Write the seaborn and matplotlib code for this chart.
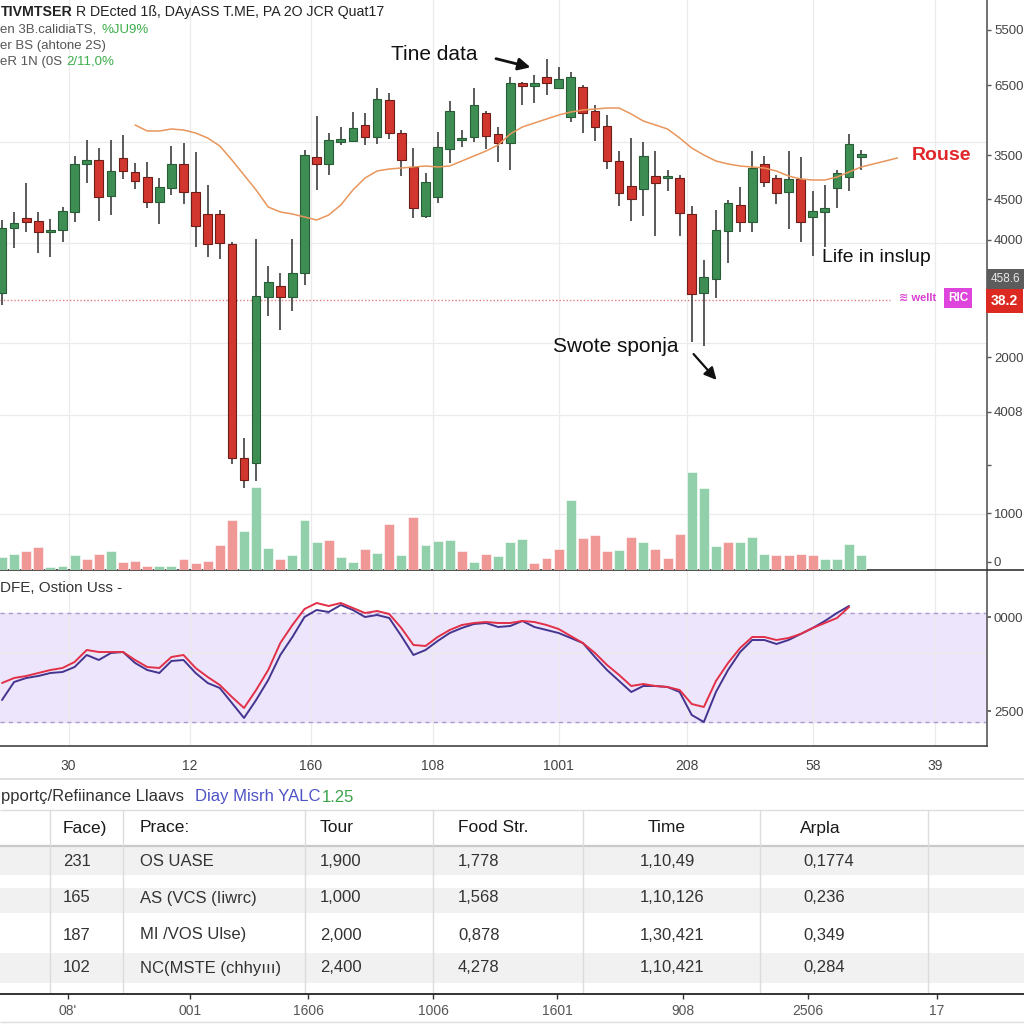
import numpy as np
import matplotlib
matplotlib.use("Agg")
import matplotlib.pyplot as plt
from matplotlib.lines import Line2D
from matplotlib.patches import Rectangle
from matplotlib.transforms import blended_transform_factory
import seaborn as sns

# ---------------- data ----------------
candle_open = [307, 372, 382, 379, 368, 370, 388, 436, 440, 404, 442, 428, 423, 398, 412, 436, 408, 386,
               386, 356, 142, 137, 303, 314, 303, 327, 443, 436, 458, 459, 475, 463, 500, 467, 433, 384,
               403, 451, 460, 463, 487, 466, 457, 517, 514, 523, 512, 483, 513, 489, 474, 439, 414, 411,
               424, 422, 422, 386, 307, 321, 369, 395, 378, 436, 422, 408, 421, 383, 388, 412, 423, 443]
candle_close = [372, 377, 378, 368, 370, 389, 436, 440, 403, 429, 429, 419, 398, 413, 436, 408, 374, 356,
                357, 142, 120, 304, 318, 303, 327, 445, 436, 460, 461, 472, 463, 501, 467, 440, 392, 418,
                453, 489, 462, 495, 464, 457, 517, 514, 517, 517, 521, 523, 487, 473, 439, 407, 401, 444,
                417, 424, 387, 306, 323, 370, 397, 378, 432, 418, 407, 421, 378, 389, 392, 427, 456, 446]
candle_high = [380, 388, 417, 388, 381, 393, 444, 460, 452, 460, 465, 437, 438, 422, 454, 457, 448, 415,
               390, 358, 162, 361, 334, 327, 361, 450, 484, 467, 473, 488, 487, 512, 507, 470, 452, 427,
               468, 499, 470, 512, 489, 473, 523, 518, 525, 541, 533, 528, 515, 495, 485, 449, 462, 458,
               449, 430, 425, 394, 340, 390, 400, 413, 449, 444, 425, 449, 443, 409, 415, 430, 466, 450]
candle_low = [295, 352, 368, 347, 343, 358, 378, 417, 379, 385, 421, 411, 392, 376, 405, 396, 353, 343,
              341, 136, 112, 119, 284, 270, 289, 315, 410, 425, 455, 458, 455, 456, 461, 424, 382, 382,
              397, 437, 453, 458, 451, 438, 430, 495, 497, 505, 512, 478, 467, 459, 431, 394, 379, 384,
              364, 409, 364, 258, 254, 302, 337, 368, 368, 413, 396, 371, 358, 344, 353, 392, 409, 430]
volume = [130, 160, 190, 230, 30, 40, 150, 110, 160, 190, 80, 90, 40, 40, 40, 110, 70, 90,
          250, 500, 390, 830, 220, 110, 150, 500, 280, 300, 130, 80, 210, 170, 460, 150, 530, 250,
          290, 300, 190, 80, 160, 140, 280, 310, 70, 120, 210, 700, 320, 350, 190, 200, 330, 280,
          210, 120, 360, 980, 820, 240, 280, 280, 330, 160, 150, 150, 160, 150, 110, 110, 260, 150]
volume_dir = list("ggrrggg" "rrgrrrggrrrrr" "gggrgggrggrgrgrgggrgrggg" "rrrgrrrgrgrrrgggrgggrrrrgggg" "r")
ma_start = 11
ma_values = [475, 469, 469, 471, 470, 467, 462, 454, 440, 425, 410, 393, 388, 386, 383, 380, 385, 395,
             410, 422, 429, 431, 432, 433, 434, 433, 434, 439, 444, 449, 455, 466, 473, 477, 481, 485,
             488, 490, 491, 492, 492, 486, 479, 475, 471, 462, 452, 445, 439, 436, 434, 433, 432, 429,
             424, 421, 420, 420, 423, 428, 433, 436, 439, 442]
osc_fast = [67, 72, 74, 77, 80, 82, 88, 100, 98, 98, 98, 90, 83, 82, 93, 95, 82, 73, 65, 53, 42, 60, 80,
            107, 125, 141, 147, 144, 147, 142, 137, 139, 136, 122, 105, 104, 113, 120, 125, 127, 128, 127,
            127, 129, 128, 125, 121, 114, 107, 97, 85, 75, 64, 66, 64, 63, 60, 46, 43, 69, 87, 102, 113,
            113, 110, 112, 116, 122, 127, 132, 143]
osc_slow = [50, 68, 72, 74, 77, 78, 83, 95, 90, 97, 98, 87, 80, 77, 89, 90, 77, 67, 62, 47, 32, 50, 70,
            95, 113, 133, 140, 138, 145, 140, 133, 135, 132, 114, 95, 100, 109, 117, 122, 126, 127, 123,
            124, 129, 123, 120, 117, 112, 107, 93, 80, 69, 58, 64, 64, 63, 58, 35, 28, 58, 80, 98, 110,
            110, 106, 110, 116, 122, 129, 137, 144]
osc_band = (28, 137)

price_ticks = [570, 515, 445, 401, 360, 243, 188, 135, 87, 38]
price_tick_labels = ["5500", "6500", "3500", "4500", "4000", "2000", "4008", "", "1000", "0"]
price_grid = [515, 458, 357, 257, 185, 86]
x_grid = [5.5, 15.5, 25.5, 35.6, 46.0, 56.6, 67.0, 77.1]
x_tick_labels = ["30", "12", "160", "108", "1001", "208", "58", "39"]
osc_ticks = [133, 39]
osc_tick_labels = ["0000", "2500"]
ref_level = 300
axis_marks = [321, 299]
axis_mark_labels = ["458.6", "38.2"]

table_headers = ["Face)", "Prace:", "Tour", "Food Str.", "Time", "Arpla"]
col_face = ["231", "165", "187", "102"]
col_prace = ["OS UASE", "AS (VCS (Iiwrc)", "MI /VOS Ulse)", "NC(MSTE (chhyııı)"]
col_tour = ["1,900", "1,000", "2,000", "2,400"]
col_food = ["1,778", "1,568", "0,878", "4,278"]
col_time = ["1,10,49", "1,10,126", "1,30,421", "1,10,421"]
col_arpla = ["0,1774", "0,236", "0,349", "0,284"]
bottom_labels = ["08'", "001", "1606", "1006", "1601", "908", "2506", "17"]

# ---------------- style ----------------
sns.set_theme(style="white")
plt.rcParams['font.family'] = ['Liberation Sans', 'DejaVu Sans']
NARROW = ['Liberation Sans Narrow', 'Liberation Sans', 'DejaVu Sans']

UP, UP_EDGE = '#3e8e54', '#275c36'
DN, DN_EDGE = '#d2372f', '#6e1d18'
VUP, VDN = '#92d0ab', '#f09896'
GRID = '#ebebeb'

W = H = 1024
fig = plt.figure(figsize=(10.24, 10.24), dpi=100, facecolor='white')
def fy(py):
    return 1 - py / H

ax = fig.add_axes([0, fy(570), 987 / W, 570 / H])
axo = fig.add_axes([0, fy(746), 987 / W, (746 - 571) / H], sharex=ax)
axt = fig.add_axes([0, 0, 1, fy(778)])

# ---------------- price panel ----------------
idx = np.arange(len(candle_open))
o = np.array(candle_open, float)
c = np.array(candle_close, float)
up = c >= o

axv = ax.twinx()
axv.bar(idx, volume, width=0.82, color=[VUP if d == 'g' else VDN for d in volume_dir],
        edgecolor='white', lw=0.4, zorder=1)
axv.set_ylim(0, 5700)
axv.set_yticks([])
for s in axv.spines.values():
    s.set_visible(False)

ax.vlines(idx, candle_low, candle_high, color='#4d4d4d', lw=1.3, zorder=2)
ax.bar(idx, np.maximum(np.abs(c - o), 1.8), bottom=np.minimum(o, c), width=0.72,
       color=np.where(up, UP, DN), edgecolor=np.where(up, UP_EDGE, DN_EDGE), lw=0.8, zorder=3)

ma_x = np.arange(ma_start, ma_start + len(ma_values))
sns.lineplot(x=ma_x, y=ma_values, ax=ax, color='#e8965c', lw=1.1, zorder=4)

ax.hlines(ref_level, -0.2, 73.4, colors='#e27c7c', linestyles=(0, (1, 1.5)), lw=1.0, zorder=1)

ax.set_xlim(-0.165, 81.4)
ax.set_ylim(30, 600)
ax.set_yticks(price_ticks)
ax.set_yticklabels(price_tick_labels)
ax.set_yticks(price_grid, minor=True)
ax.yaxis.tick_right()
ax.yaxis.set_label_position('right')
ax.tick_params(axis='y', which='major', direction='out', length=3, width=1, color='#555',
               labelsize=9.5, labelcolor='#444', pad=2, right=True, left=False,
               labelright=True, labelleft=False)
ax.tick_params(axis='y', which='minor', length=0, left=False, right=False)
ax.yaxis.grid(True, which='minor', color=GRID, lw=0.9)
ax.set_xticks(x_grid)
ax.xaxis.grid(True, color=GRID, lw=0.9)
ax.tick_params(axis='x', length=0, labelbottom=False)
for s in ['left', 'top']:
    ax.spines[s].set_visible(False)
ax.spines['right'].set_color('#666')
ax.spines['right'].set_linewidth(1.3)
ax.spines['bottom'].set_color('#333')
ax.spines['bottom'].set_linewidth(1.2)
ax.set_xlabel('')
ax.set_ylabel('')

# annotations
ax.text(35.7, 545, "Tine data", fontsize=15, color='#111', ha='center', va='center')
ax.annotate("", xy=(43.9, 532), xytext=(40.6, 542),
            arrowprops=dict(arrowstyle='-|>,head_length=0.6,head_width=0.3', color='#111', lw=2))
ax.text(50.7, 253, "Swote sponja", fontsize=15, color='#111', ha='center', va='center')
ax.annotate("", xy=(59.2, 218), xytext=(57.0, 248),
            arrowprops=dict(arrowstyle='-|>,head_length=0.6,head_width=0.3', color='#111', lw=1.6))
ax.text(67.8, 343, "Life in inslup", fontsize=14, color='#111', ha='left', va='center')
ax.text(77.6, 444, "Rouse", fontsize=14, color='#e0262a', fontweight='bold', ha='center', va='center')
ax.text(75.7, 302, "≋ wellt", fontsize=8, color='#d83fd0', fontweight='bold', ha='center', va='center')
ax.text(79.0, 302, "RIC", fontsize=8.5, color='white', fontweight='bold', ha='center', va='center',
        bbox=dict(boxstyle='square,pad=0.35', fc='#de45dc', ec='none'))
trans = blended_transform_factory(ax.transAxes, ax.transData)
ax.text(1.004, axis_marks[0], axis_mark_labels[0], transform=trans, fontsize=8.5, color='#e8e8e8',
        ha='left', va='center', bbox=dict(boxstyle='square,pad=0.3', fc='#5c5c5c', ec='none'),
        clip_on=False, zorder=10)
ax.text(1.004, axis_marks[1], axis_mark_labels[1], transform=trans, fontsize=10, color='white',
        fontweight='bold', ha='left', va='center',
        bbox=dict(boxstyle='square,pad=0.35', fc='#dc2a22', ec='none'), clip_on=False, zorder=10)

# ---------------- oscillator panel ----------------
axo.axhspan(osc_band[0], osc_band[1], color='#ede5fb', zorder=0)
for lv in osc_band:
    axo.axhline(lv, color='#a89cc8', lw=1.0, ls=(0, (3, 3)), zorder=1)
oidx = np.arange(len(osc_fast))
sns.lineplot(x=oidx, y=osc_fast, ax=axo, color='#e23048', lw=1.4, zorder=3)
sns.lineplot(x=oidx, y=osc_slow, ax=axo, color='#43358f', lw=1.4, zorder=2)
axo.set_ylim(4, 179)
axo.yaxis.tick_right()
axo.set_yticks(osc_ticks)
axo.set_yticklabels(osc_tick_labels)
axo.set_yticks([97], minor=True)
axo.yaxis.grid(True, which='minor', color=GRID, lw=0.9)
axo.tick_params(axis='y', which='major', direction='out', length=3, color='#555', labelsize=9.5,
                labelcolor='#444', pad=2)
axo.tick_params(axis='y', which='minor', length=0)
axo.set_xticks(x_grid)
axo.set_xticklabels(x_tick_labels)
axo.xaxis.grid(True, color=GRID, lw=0.9)
axo.tick_params(axis='x', length=0, labelsize=10, labelcolor='#444', pad=9)
for s in ['left', 'top']:
    axo.spines[s].set_visible(False)
axo.spines['right'].set_color('#666')
axo.spines['right'].set_linewidth(1.3)
axo.spines['bottom'].set_color('#444')
axo.spines['bottom'].set_linewidth(1.2)
axo.set_xlabel('')
axo.set_ylabel('')
axo.text(0.0, 0.90, "DFE, Ostion Uss -", transform=axo.transAxes, fontsize=11, color='#333',
         ha='left', va='center')

# extend main baseline to the right edge
fig.add_artist(Line2D([987 / W, 1], [fy(570), fy(570)], color='#333', lw=1.2))

# ---------------- header texts ----------------
fig.text(0.5 / W, fy(12), "TIVMTSER", fontsize=10.2, fontweight='bold', color='#222', va='center')
fig.text(76 / W, fy(12), "R DEcted 1ß, DAyASS T.ME, PA 2O JCR Quat17", fontsize=10.2, color='#222',
         va='center')
fig.text(0.5 / W, fy(30), "en 3B.calidiaTS,", fontsize=9.5, color='#555', va='center')
fig.text(101 / W, fy(30), "%JU9%", fontsize=9.5, color='#3cae4a', va='center')
fig.text(0.5 / W, fy(46), "er BS (ahtone 2S)", fontsize=9.5, color='#555', va='center')
fig.text(0.5 / W, fy(62), "eR 1N (0S", fontsize=9.5, color='#555', va='center')
fig.text(66 / W, fy(62), "2/11,0%", fontsize=9.5, color='#3cae4a', va='center')

# ---------------- table ----------------
axt.set_xlim(0, 1024)
axt.set_ylim(1024, 778)
axt.axis('off')
axt.axhline(779, color='#d9d9d9', lw=1.2)
axt.text(1, 797, "pportç/Refiinance Llaavs", fontsize=12, color='#333', va='center', family=NARROW)
axt.text(195, 797, "Diay Misrh YALC", fontsize=12, color='#4d52c4', va='center', family=NARROW)
axt.text(322, 797, "1.25", fontsize=12, color='#3aa34a', va='center', family=NARROW)

for (y0, y1) in [(847, 875), (888, 913), (953, 983)]:
    axt.add_patch(Rectangle((0, y0), 1024, y1 - y0, fc='#f1f1f1', ec='none', zorder=0))
axt.hlines(810, 0, 1024, colors='#dedede', lw=1.0)
axt.hlines(846, 0, 1024, colors='#c9c9c9', lw=1.6)
col_sep = [50, 123, 305, 433, 583, 760, 928]
axt.vlines(col_sep, 810, 993, colors='#dcdcdc', lw=1.0)

col_x = [63, 140, 320, 458, 648, 800]
for x, h in zip(col_x, table_headers):
    axt.text(x, 828, h, fontsize=12.5, color='#1a1a1a', va='center', family=NARROW)
row_y = [861, 898, 935, 968]
row_x = [63, 140, 320, 458, 640, 803]
for j, col in enumerate([col_face, col_prace, col_tour, col_food, col_time, col_arpla]):
    for y, v in zip(row_y, col):
        axt.text(row_x[j], y, v, fontsize=12, color='#333', va='center', family=NARROW)

axt.hlines(994, 0, 1024, colors='#333', lw=1.4)
bottom_x = [68, 190, 308, 433, 557, 683, 808, 937]
axt.vlines(bottom_x, 994, 999, colors='#333', lw=1.0)
for x, lab in zip(bottom_x, bottom_labels):
    axt.text(x, 1011, lab, fontsize=10, color='#555', ha='center', va='center', family=NARROW)
axt.hlines(1022, 0, 1024, colors='#dddddd', lw=1.0)

fig.savefig("out.png", dpi=100, facecolor='white')
